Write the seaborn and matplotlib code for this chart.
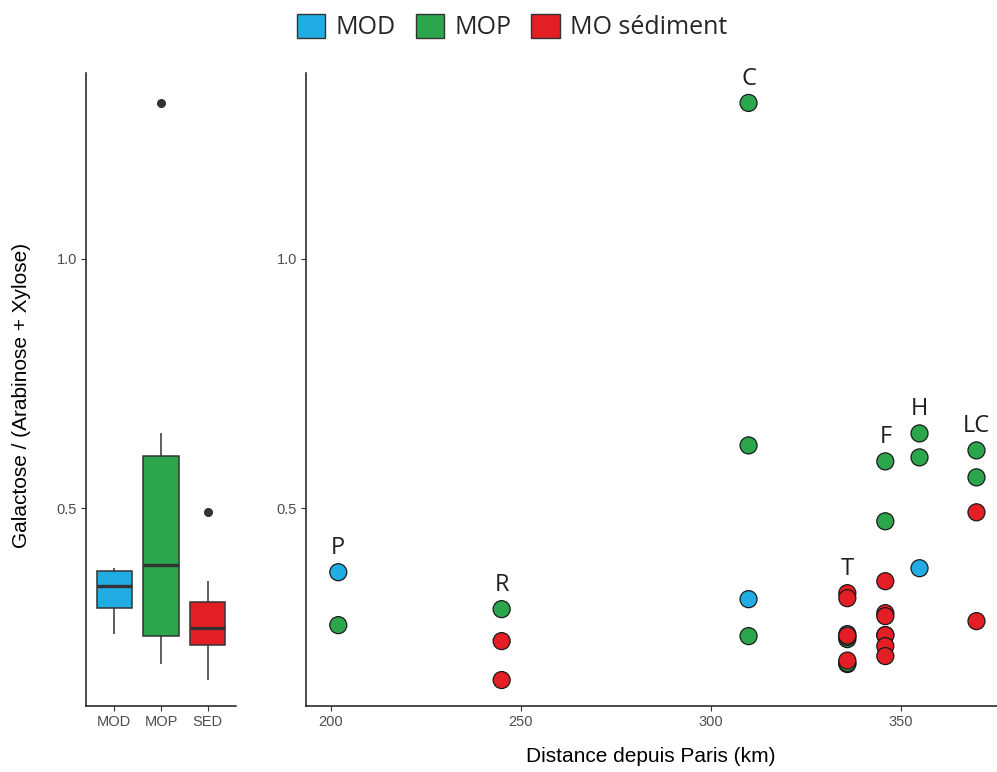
import numpy as np
import pandas as pd
import matplotlib
matplotlib.use("Agg")
import matplotlib.pyplot as plt
from matplotlib.patches import Patch
import seaborn as sns

# ---- data ----
fractions = ["MOD", "MOP", "MO sédiment"]
box_labels = ["MOD", "MOP", "SED"]
colors = ["#22ACE4", "#2CA64D", "#E41E25"]

mod_site = ["T", "P", "C", "H"]
mod_dist = [336, 202, 310, 355]
mod_ratio = [0.248, 0.372, 0.318, 0.380]

mop_site = ["P", "R", "C", "C", "C", "T", "T", "T", "T", "F", "F", "F", "H", "H", "LC", "LC"]
mop_dist = [202, 245, 310, 310, 310, 336, 336, 336, 336, 346, 346, 346, 355, 355, 370, 370]
mop_ratio = [0.266, 0.298, 1.312, 0.626, 0.244, 0.238, 0.242, 0.188, 0.190,
             0.594, 0.474, 0.246, 0.650, 0.602, 0.616, 0.562]

sed_site = ["R", "R", "T", "T", "T", "T", "F", "F", "F", "F", "F", "F", "LC", "LC"]
sed_dist = [245, 245, 336, 336, 336, 336, 346, 346, 346, 346, 346, 346, 370, 370]
sed_ratio = [0.234, 0.156, 0.330, 0.320, 0.245, 0.195,
             0.354, 0.290, 0.284, 0.246, 0.224, 0.204, 0.492, 0.274]

site_labels = ["P", "R", "C", "T", "F", "H", "LC"]

rows = []
for frac, lab, s_, d_, r_ in [
    ("MOD", "MOD", mod_site, mod_dist, mod_ratio),
    ("MOP", "MOP", mop_site, mop_dist, mop_ratio),
    ("MO sédiment", "SED", sed_site, sed_dist, sed_ratio),
]:
    for s, d, r in zip(s_, d_, r_):
        rows.append(dict(fraction=frac, box=lab, site=s, distance=d, ratio=r))
df = pd.DataFrame(rows)
palette = dict(zip(fractions, colors))
box_palette = dict(zip(box_labels, colors))

# ---- figure ----
sns.set_theme(style="white")
plt.rcParams["font.family"] = ["Liberation Sans", "DejaVu Sans"]

W, H = 997, 772
fig = plt.figure(figsize=(W / 100, H / 100), dpi=100)

def fx(px):
    return px / W

def fy(py):
    return 1 - py / H

top_px, bot_px = 73, 706
ax1 = fig.add_axes([fx(86), fy(bot_px), fx(236) - fx(86), fy(top_px) - fy(bot_px)])
ax2 = fig.add_axes([fx(306), fy(bot_px), fx(997) - fx(306), fy(top_px) - fy(bot_px)])

ylim = (0.104, 1.372)
tick_color = "#4D4D4D"

# boxplot panel
sns.boxplot(data=df, x="box", y="ratio", hue="box", order=box_labels,
            hue_order=box_labels, palette=box_palette, width=0.75,
            linecolor="#333333", linewidth=1.1, whis=1.5, saturation=1,
            legend=False, ax=ax1, showcaps=False,
            flierprops=dict(marker="o", markerfacecolor="#333333",
                            markeredgecolor="#333333", markersize=5.5),
            medianprops=dict(linewidth=2.4, color="#333333"))
ax1.set_xlim(-0.6, 2.6)

# scatter panel
sns.scatterplot(data=df, x="distance", y="ratio", hue="fraction",
                hue_order=fractions, palette=palette, s=150,
                edgecolor="#1a1a1a", linewidth=0.9, legend=False, ax=ax2,
                zorder=3)
ax2.set_xlim(193.5, 375.4)
ax2.set_xticks([200, 250, 300, 350])

site_top = df.groupby("site").agg(distance=("distance", "first"), ratio=("ratio", "max"))
for s in site_labels:
    d, r = site_top.loc[s, "distance"], site_top.loc[s, "ratio"]
    ax2.annotate(s, (d, r), xytext=(0, 13), textcoords="offset points",
                 ha="center", va="baseline", fontsize=17, color="#231F20",
                 family=["Open Sans", "DejaVu Sans"])

for ax in (ax1, ax2):
    ax.set_ylim(*ylim)
    ax.set_yticks([0.5, 1.0])
    ax.set_yticklabels(["0.5", "1.0"])
    ax.set_xlabel("")
    ax.set_ylabel("")
    for sp in ("top", "right"):
        ax.spines[sp].set_visible(False)
    for sp in ("left", "bottom"):
        ax.spines[sp].set_color("#1a1a1a")
        ax.spines[sp].set_linewidth(1.1)
    ax.tick_params(axis="both", which="major", length=3.5, width=0.8,
                   color="#333333", labelcolor=tick_color, labelsize=10.5,
                   pad=3, left=True, bottom=True)
    ax.set_facecolor("white")

fig.text(fx(22), fy(395), "Galactose / (Arabinose + Xylose)", rotation=90,
         ha="center", va="center", fontsize=15, color="black")
fig.text(fx(651), fy(757), "Distance depuis Paris (km)",
         ha="center", va="center", fontsize=15, color="black")

handles = [Patch(facecolor=c, edgecolor="#333333", linewidth=1.0) for c in colors]
leg = fig.legend(handles, fractions, loc="center", bbox_to_anchor=(fx(512), fy(27)),
                 ncol=3, frameon=False, handlelength=1.15, handleheight=1.15,
                 handletextpad=0.4, columnspacing=0.8,
                 prop=dict(family=["Open Sans", "DejaVu Sans"], size=18))

fig.savefig("out.png", dpi=100, facecolor="white")
